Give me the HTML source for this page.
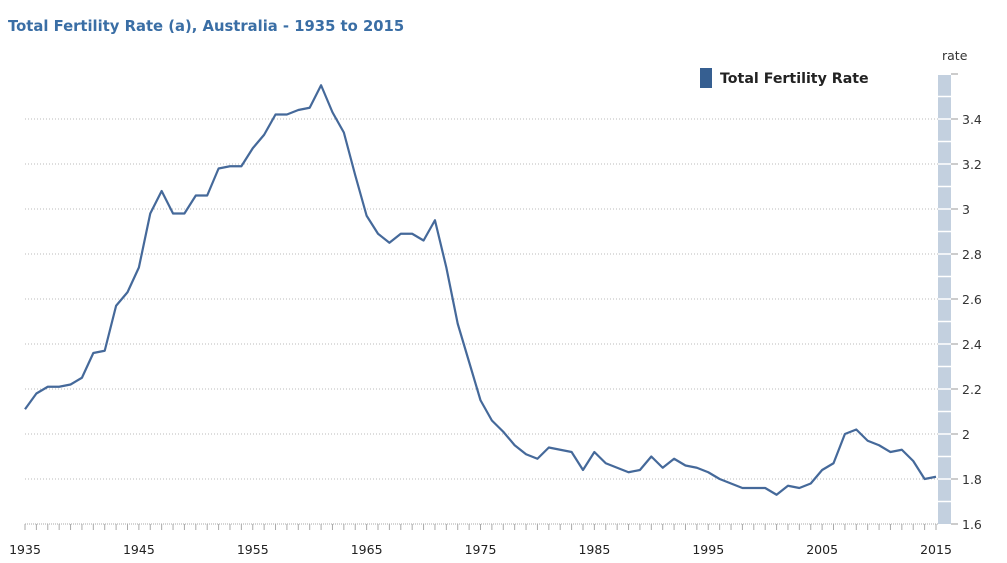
<!DOCTYPE html>
<html><head><meta charset="utf-8"><style>
body{margin:0;background:#fff;font-family:"DejaVu Sans","Liberation Sans",sans-serif}
#wrap{position:relative;width:1007px;height:563px;overflow:hidden}
</style></head><body>
<div id="wrap">
<svg id="chart" width="1007" height="563" font-family="DejaVu Sans, Liberation Sans, sans-serif"></svg>
</div>
<script>
const years=[];for(let y=1935;y<=2015;y++)years.push(y);
const rates=[2.11,2.18,2.21,2.21,2.22,2.25,2.36,2.37,2.57,2.63,2.74,2.98,3.08,2.98,2.98,3.06,3.06,3.18,3.19,3.19,3.27,3.33,3.42,3.42,3.44,3.45,3.55,3.43,3.34,3.15,2.97,2.89,2.85,2.89,2.89,2.86,2.95,2.74,2.49,2.32,2.15,2.06,2.01,1.95,1.91,1.89,1.94,1.93,1.92,1.84,1.92,1.87,1.85,1.83,1.84,1.90,1.85,1.89,1.86,1.85,1.83,1.80,1.78,1.76,1.76,1.76,1.73,1.77,1.76,1.78,1.84,1.87,2.00,2.02,1.97,1.95,1.92,1.93,1.88,1.80,1.81];
const yTicks=[1.6,1.8,2,2.2,2.4,2.6,2.8,3,3.2,3.4];
const yTickLabels=["1.6","1.8","2","2.2","2.4","2.6","2.8","3","3.2","3.4"];
const xTickYears=[1935,1945,1955,1965,1975,1985,1995,2005,2015];

const NS="http://www.w3.org/2000/svg";
const svg=document.getElementById('chart');
const X=y=>25+(y-1935)*(911/80);
const Y=v=>524-(v-1.6)*225;
function mk(t,a,p){const e=document.createElementNS(NS,t);for(const k in a)e.setAttribute(k,a[k]);(p||svg).appendChild(e);return e;}

let t=mk('text',{x:8,y:31,fill:'#3a6ea5','font-size':14.8,'font-weight':'bold'});
t.textContent='Total Fertility Rate (a), Australia - 1935 to 2015';



let s=mk('rect',{x:938,y:75,width:13,height:449,fill:'#c3d0df'});


for(let v=1.7;v<3.65;v+=0.1){mk('line',{x1:938,x2:951,y1:Y(v),y2:Y(v),stroke:'#fff','stroke-width':1.5});}

yTicks.forEach((v,i)=>{
  if(i>0){let g=mk('line',{x1:25,x2:938,y1:Y(v),y2:Y(v),stroke:'#bbb','stroke-dasharray':'1,2'});
  
  }
  mk('line',{x1:951,x2:958,y1:Y(v),y2:Y(v),stroke:'#999'});
  let lb=mk('text',{x:962,y:Y(v)+5,fill:'#333','font-size':12.5});
  lb.textContent=yTickLabels[i];
  
  
});
mk('line',{x1:951,x2:958,y1:Y(3.6),y2:Y(3.6),stroke:'#999'});
let rl=mk('text',{x:942,y:60,fill:'#333','font-size':12.5});
rl.textContent='rate';



let ax=mk('line',{x1:25,x2:938,y1:524,y2:524,stroke:'#aaa','stroke-dasharray':'1,1'});


years.forEach(y=>mk('line',{x1:X(y),x2:X(y),y1:524,y2:530,stroke:'#aaa'}));
xTickYears.forEach(y=>{
  let lb=mk('text',{x:X(y),y:554,fill:'#222','font-size':12.5,'text-anchor':'middle'});
  lb.textContent=y;
  
  
});

let line=mk('polyline',{points:years.map((y,i)=>X(y)+','+Y(rates[i])).join(' '),fill:'none',stroke:'#45699a','stroke-width':2.2,'stroke-linejoin':'round'});



let lg=mk('rect',{x:700,y:68,width:12,height:20,fill:'#365f91'});


let lt=mk('text',{x:720,y:83,fill:'#222','font-size':14.2,'font-weight':'bold'});
lt.textContent='Total Fertility Rate';


</script>
</body></html>
